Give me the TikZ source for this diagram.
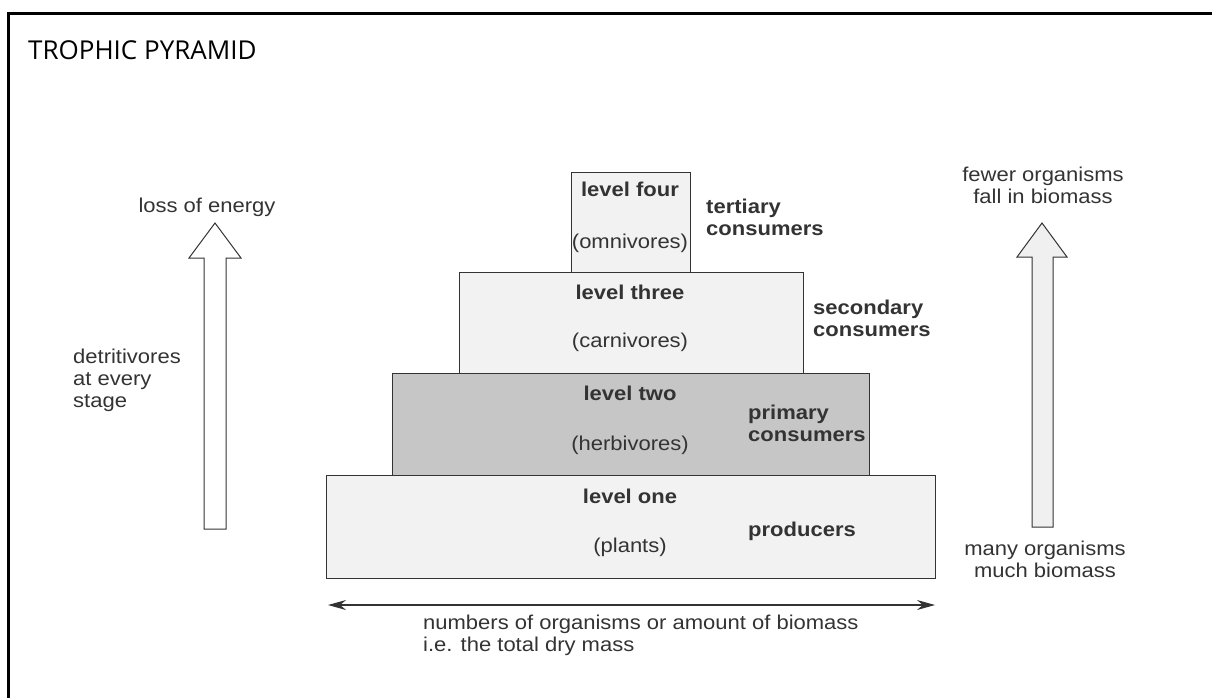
\documentclass[tikz,border=0pt]{standalone}
\usepackage{fontspec}
\usetikzlibrary{arrows.meta}
\newfontfamily\labfont[FakeStretch=1.1]{Liberation Sans}
\newfontfamily\titlefont{Open Sans}
\definecolor{ink}{HTML}{333333}
\definecolor{lightfill}{HTML}{F2F2F2}
\definecolor{darkfill}{HTML}{C6C6C6}
\definecolor{arrowfill}{HTML}{F0F0F0}
\begin{document}
\begin{tikzpicture}[x=1pt,y=-1pt,
  levelbox/.style={draw=ink, line width=1.4pt, fill=lightfill, inner sep=0pt, anchor=north west},
  lab/.style={text=ink, inner sep=0pt, font=\labfont\fontsize{20}{22}\selectfont},
  blab/.style={lab, font=\labfont\bfseries\fontsize{20}{22}\selectfont},
  blockarrow/.style={draw=ink, line width=1pt, line join=miter}
]
\useasboundingbox (0,0) rectangle (1212,697);
\begin{scope}
\clip (0,0) rectangle (1212,697);
\draw[line width=3pt, black] (8,13) rectangle (1230,720);
\end{scope}

\node[anchor=west, inner sep=0pt, font=\titlefont\fontsize{26}{30}\selectfont] (title) at (28,50) {TROPHIC PYRAMID};

% pyramid levels
\node[levelbox, minimum width=609pt, minimum height=103pt] (l1) at (326,475) {};
\node[levelbox, fill=darkfill, minimum width=477pt, minimum height=102pt] (l2) at (392,373) {};
\node[levelbox, minimum width=344pt, minimum height=101pt] (l3) at (459,272) {};
\node[levelbox, minimum width=119pt, minimum height=100pt] (l4) at (571,172) {};

% level texts
\node[blab] (l4a) at (630,189) {level four};
\node[lab]  (l4b) at (630,243) {(omnivores)};
\node[blab, anchor=west, align=left] (l4c) at (706,217) {tertiary\\consumers};

\node[blab] (l3a) at (630,292) {level three};
\node[lab]  (l3b) at (630,342) {(carnivores)};
\node[blab, anchor=west, align=left] (l3c) at (813,318) {secondary\\consumers};

\node[blab] (l2a) at (630,393) {level two};
\node[lab]  (l2b) at (630,445) {(herbivores)};
\node[blab, anchor=west, align=left] (l2c) at (748,423) {primary\\consumers};

\node[blab] (l1a) at (630,496) {level one};
\node[lab]  (l1b) at (630,547) {(plants)};
\node[blab, anchor=west] (l1c) at (748,531) {producers};

% left block arrow
\draw[blockarrow, fill=white] (204,529) -- (204,258) -- (189,258) -- (215,223) -- (241,258) -- (226,258) -- (226,529) -- cycle;
\node[lab] (loss) at (207,207) {loss of energy};
\node[lab, anchor=west, align=left] (detr) at (73,380) {detritivores\\at every\\stage};

% right block arrow
\draw[blockarrow, fill=arrowfill] (1032,527) -- (1032,257) -- (1017,257) -- (1042,223) -- (1067,257) -- (1053,257) -- (1053,527) -- cycle;
\node[lab, align=center] (fewer) at (1043,185) {fewer organisms\\fall in biomass};
\node[lab, align=center] (many) at (1045,559) {many organisms\\much biomass};

% bottom double arrow
\coordinate (bl) at (328,605);
\coordinate (br) at (935,605);
\draw[ink, line width=1.3pt, {Stealth[length=18pt,width=10pt]}-{Stealth[length=18pt,width=10pt]}] (bl) -- (br);
\node[lab, anchor=north west, align=left] (numb) at (423,615) {numbers of organisms or amount of biomass\\i.e. the total dry mass};
\end{tikzpicture}
\end{document}
